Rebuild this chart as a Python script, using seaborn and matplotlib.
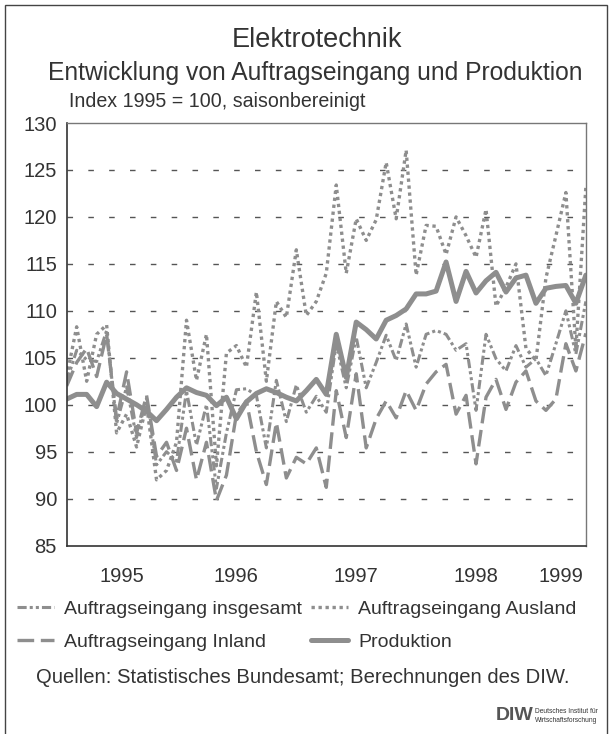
import pandas as pd
import seaborn as sns
import matplotlib.pyplot as plt
from matplotlib.patches import Rectangle
from matplotlib.lines import Line2D


# monthly values, Jan 1995 .. May 1999 (index 1995 = 100, seasonally adjusted)
month_index = list(range(53))

produktion = [
    100.6, 101.1, 101.1, 99.8, 102.4, 101.2, 100.6, 100.0, 99.3, 98.3, 99.5, 100.8,
    101.8, 101.3, 101.0, 99.9, 100.8, 98.5, 100.3, 101.2, 101.7, 101.3, 100.8, 100.4,
    101.5, 102.7, 101.1, 107.5, 102.9, 108.8, 108.0, 107.0, 109.0, 109.5, 110.2, 111.8,
    111.8, 112.1, 115.2, 111.0, 114.2, 111.9, 113.2, 114.1, 112.0, 113.5, 113.8, 110.8,
    112.4, 112.6, 112.7, 110.8, 113.8,
]
ausland = [
    103.0, 108.3, 102.5, 107.5, 108.5, 97.0, 99.0, 95.5, 100.0, 92.0, 93.0, 96.0,
    109.0, 102.6, 107.5, 93.5, 105.5, 106.3, 104.0, 112.0, 102.5, 111.0, 109.3, 116.5,
    109.5, 111.0, 114.0, 123.4, 114.0, 119.8, 117.5, 119.7, 125.8, 119.8, 127.1, 113.8,
    119.1, 119.0, 116.0, 120.0, 118.0, 115.7, 120.8, 110.5, 112.5, 115.0, 106.0, 104.7,
    113.5, 118.0, 122.6, 106.0, 123.2,
]
inland = [
    102.0, 104.5, 106.0, 103.0, 107.5, 98.5, 103.5, 97.0, 101.0, 94.5, 96.0, 93.0,
    97.5, 92.0, 96.0, 89.8, 92.5, 99.0, 100.4, 95.0, 91.5, 98.1, 92.2, 94.4,
    93.7, 95.4, 91.2, 101.5, 96.5, 103.3, 95.4, 98.5, 100.4, 98.6, 101.5, 99.4,
    102.2, 103.5, 104.3, 99.0, 101.0, 93.7, 100.8, 102.7, 99.5, 102.4, 103.6, 100.4,
    99.4, 100.6, 106.5, 103.6, 107.6,
]
insgesamt = [
    102.5, 105.8, 104.8, 104.6, 107.9, 98.0, 101.9, 96.5, 100.7, 93.6, 95.0, 94.0,
    101.5, 95.7, 100.0, 91.1, 97.0, 101.6, 101.7, 101.0, 95.4, 102.6, 98.2, 102.1,
    99.2, 100.9, 99.2, 106.5, 101.8, 107.2, 101.8, 104.5, 107.4, 104.7, 108.6, 104.0,
    107.5, 107.9, 107.5, 105.8, 106.5, 99.4, 107.5, 104.9, 103.6, 106.3, 104.0, 104.9,
    103.1, 106.5, 110.0, 105.4, 111.0,
]

year_labels = ["1995", "1996", "1997", "1998", "1999"]
year_label_pos = [5.5, 17, 29, 41, 49.5]
year_bounds = [11, 23, 35, 47]

df = pd.DataFrame({
    "monat": month_index,
    "Auftragseingang insgesamt": insgesamt,
    "Auftragseingang Ausland": ausland,
    "Auftragseingang Inland": inland,
    "Produktion": produktion,
})

sns.set_style("white")
plt.rcParams["font.family"] = ["Liberation Sans", "DejaVu Sans"]

GREY = "#8e8e8e"
TXT = "#333333"

fig = plt.figure(figsize=(6.09, 7.34), dpi=100)
ax = fig.add_axes([0.1095, 0.2567, 0.8525, 0.5757])

styles = {
    "Auftragseingang Ausland": dict(lw=2.4, ls=(0, (1, 1.1))),
    "Auftragseingang insgesamt": dict(lw=2.2, ls=(0, (3, 1, 1, 1, 1, 1))),
    "Auftragseingang Inland": dict(lw=2.4, ls=(0, (5, 2))),
    "Produktion": dict(lw=3.6, ls="-"),
}
for name, st in styles.items():
    sns.lineplot(data=df, x="monat", y=name, ax=ax, color=GREY,
                 linewidth=st["lw"], linestyle=st["ls"])

ax.set_xlim(0, 52)
ax.set_ylim(85, 130)
ax.set_xlabel("")
ax.set_ylabel("")

ax.set_yticks(range(85, 131, 5))
ax.tick_params(axis="y", direction="out", length=6, width=1, color=TXT,
               labelsize=14.5, labelcolor=TXT, pad=1)
for v in range(90, 130, 5):
    ax.axhline(v, color="#555555", lw=1, ls=(0, (4, 11)), zorder=0)

ax.set_xticks(year_bounds)
ax.set_xticklabels([])
ax.set_xticks(month_index, minor=True)
ax.tick_params(axis="x", which="major", direction="out", length=14, width=1, color=TXT)
ax.tick_params(axis="x", which="minor", direction="out", length=6, width=0.9, color=TXT)
for pos, lab in zip(year_label_pos, year_labels):
    ax.text(pos, -0.05, lab, transform=ax.get_xaxis_transform(), ha="center",
            va="top", fontsize=14.5, color=TXT)

for side in ["left", "bottom"]:
    ax.spines[side].set_color(TXT)
    ax.spines[side].set_linewidth(1.2)
for side in ["top", "right"]:
    ax.spines[side].set_color("#777777")
    ax.spines[side].set_linewidth(1.0)

fig.text(0.52, 0.945, "Elektrotechnik", ha="center", va="center", fontsize=19.5, color=TXT)
fig.text(0.517, 0.900, "Entwicklung von Auftragseingang und Produktion", ha="center",
         va="center", fontsize=17.7, color=TXT)
fig.text(0.114, 0.862, "Index 1995 = 100, saisonbereinigt", ha="left", va="center",
         fontsize=14.1, color=TXT)

order = ["Auftragseingang insgesamt", "Auftragseingang Inland",
         "Auftragseingang Ausland", "Produktion"]
handles = [Line2D([], [], color=GREY, lw=styles[n]["lw"], ls=styles[n]["ls"]) for n in order]
fig.legend(handles, order, loc="upper left", bbox_to_anchor=(0.028, 0.182), ncol=2,
           frameon=False, fontsize=14, handlelength=1.9, handletextpad=0.5,
           columnspacing=0.5, labelspacing=0.8, borderpad=0, borderaxespad=0,
           labelcolor=TXT)

fig.text(0.497, 0.077, "Quellen: Statistisches Bundesamt; Berechnungen des DIW.",
         ha="center", va="center", fontsize=14.6, color=TXT)

fig.text(0.845, 0.025, "DIW", ha="center", va="center", fontsize=14, color="#555555",
         fontweight="bold")
fig.text(0.879, 0.031, "Deutsches Institut für", ha="left", va="center", fontsize=4.8,
         color=TXT)
fig.text(0.879, 0.019, "Wirtschaftsforschung", ha="left", va="center", fontsize=4.8,
         color=TXT)

fig.patches.append(Rectangle((0.008, -0.01), 0.988, 1.003, transform=fig.transFigure,
                             fill=False, ec="#444444", lw=1.0))

fig.savefig("out.png", dpi=100)
